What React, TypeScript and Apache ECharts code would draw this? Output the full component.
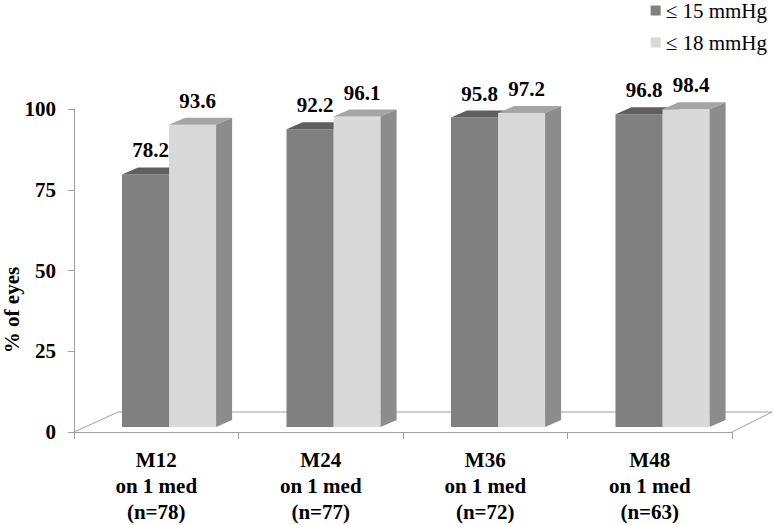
import React, { useEffect, useRef } from "react";
import * as echarts from "echarts";

const categories = ["M12\non 1 med\n(n=78)", "M24\non 1 med\n(n=77)", "M36\non 1 med\n(n=72)", "M48\non 1 med\n(n=63)"];
const seriesNames = ["≤ 15 mmHg", "≤ 18 mmHg"];
const le15 = [78.2, 92.2, 95.8, 96.8];
const le18 = [93.6, 96.1, 97.2, 98.4];
const yTicks = { min: 0, max: 100, interval: 25 };

const FONT = '"Liberation Serif", "Times New Roman", serif';
const palettes = [
  { front: "#808080", top: "#5f5f5f", side: "#6e6e6e" },
  { front: "#d9d9d9", top: "#a5a5a5", side: "#8c8c8c" },
];

const DX = 16;
const DY = 7;
const LIFT = 5;

function makeBarRenderer(idx: number) {
  return (params: any, api: any) => {
    const cat = api.value(0);
    const val = api.value(1);
    const base = api.coord([cat, 0]);
    const top = api.coord([cat, val]);
    const band = api.size([1, 0])[0];
    const w = band * 0.286;
    const x0 = base[0] - band / 2 + band * (48 / 164.5) + idx * w;
    const yb = base[1] - LIFT;
    const yt = top[1] - LIFT;
    const c = palettes[idx];
    return {
      type: "group",
      children: [
        {
          type: "rect",
          shape: { x: x0, y: yt, width: w, height: yb - yt },
          style: { fill: c.front },
        },
        {
          type: "polygon",
          shape: { points: [[x0, yt], [x0 + DX, yt - DY], [x0 + w + DX, yt - DY], [x0 + w, yt]] },
          style: { fill: c.top },
        },
        {
          type: "polygon",
          shape: { points: [[x0 + w, yt], [x0 + w + DX, yt - DY], [x0 + w + DX, yb - DY], [x0 + w, yb]] },
          style: { fill: c.side },
        },
        {
          type: "text",
          x: x0 + w / 2 + 5,
          y: yt - 24,
          style: {
            text: val.toFixed(1),
            font: `bold 21px ${FONT}`,
            fill: "#000",
            align: "center",
            verticalAlign: "middle",
            textAlign: "center",
            textVerticalAlign: "middle",
          },
        },
      ],
    };
  };
}

function renderFloor(params: any, api: any) {
  const n = categories.length;
  const c0 = api.coord([0, 0]);
  const c1 = api.coord([n - 1, 0]);
  const band = api.size([1, 0])[0];
  const left = c0[0] - band / 2;
  const right = c1[0] + band / 2;
  const y = c0[1];
  return {
    type: "polyline",
    shape: { points: [[left, y], [left + 44, y - 20], [right + 40, y - 20], [right, y]] },
    style: { stroke: "#a0a0a0", lineWidth: 1, fill: null },
  };
}

export default function App() {
  const ref = useRef<HTMLDivElement>(null);
  useEffect(() => {
    const chart = echarts.init(ref.current!, null, { renderer: "svg" });
    chart.setOption({
      animation: false,
      backgroundColor: "#fff",
      grid: { left: 74, right: 42, top: 109, bottom: 91, containLabel: false },
      legend: {
        data: seriesNames,
        orient: "vertical",
        right: 7,
        top: 0,
        padding: 0,
        icon: "rect",
        itemWidth: 10,
        itemHeight: 10,
        itemGap: 11,
        textStyle: { fontFamily: FONT, fontSize: 21, color: "#000", lineHeight: 21 },
      },
      xAxis: {
        type: "category",
        data: categories,
        axisLine: { show: true, lineStyle: { color: "#a0a0a0", width: 1 } },
        axisTick: { show: true, length: 7, interval: 0, lineStyle: { color: "#a0a0a0" } },
        axisLabel: {
          interval: 0,
          margin: 15,
          fontFamily: FONT,
          fontSize: 21,
          fontWeight: "bold",
          lineHeight: 26,
          color: "#000",
        },
        splitLine: { show: false },
      },
      yAxis: {
        type: "value",
        min: yTicks.min,
        max: yTicks.max,
        interval: yTicks.interval,
        axisLine: { show: true, lineStyle: { color: "#a0a0a0", width: 1 } },
        axisTick: { show: true, length: 6, lineStyle: { color: "#a0a0a0" } },
        axisLabel: { margin: 18, fontFamily: FONT, fontSize: 21, fontWeight: "bold", color: "#000" },
        splitLine: { show: false },
      },
      graphic: [
        {
          type: "text",
          x: 12,
          y: 310,
          rotation: Math.PI / 2,
          style: {
            text: "% of eyes",
            font: `bold 21px ${FONT}`,
            fill: "#000",
            align: "center",
            verticalAlign: "middle",
            textAlign: "center",
            textVerticalAlign: "middle",
          },
        },
      ],
      series: [
        {
          type: "custom",
          name: "floor",
          renderItem: renderFloor,
          data: [[0, 0]],
          z: 1,
          silent: true,
        },
        {
          type: "custom",
          name: seriesNames[0],
          renderItem: makeBarRenderer(0),
          itemStyle: { color: palettes[0].front },
          data: le15.map((v, i) => [i, v]),
          z: 2,
        },
        {
          type: "custom",
          name: seriesNames[1],
          renderItem: makeBarRenderer(1),
          itemStyle: { color: palettes[1].front },
          data: le18.map((v, i) => [i, v]),
          z: 3,
        },
      ],
    });
    return () => chart.dispose();
  }, []);
  return (
    <div
      ref={ref}
      style={{ position: "absolute", left: 0, top: 0, width: 774, height: 525 }}
    />
  );
}
